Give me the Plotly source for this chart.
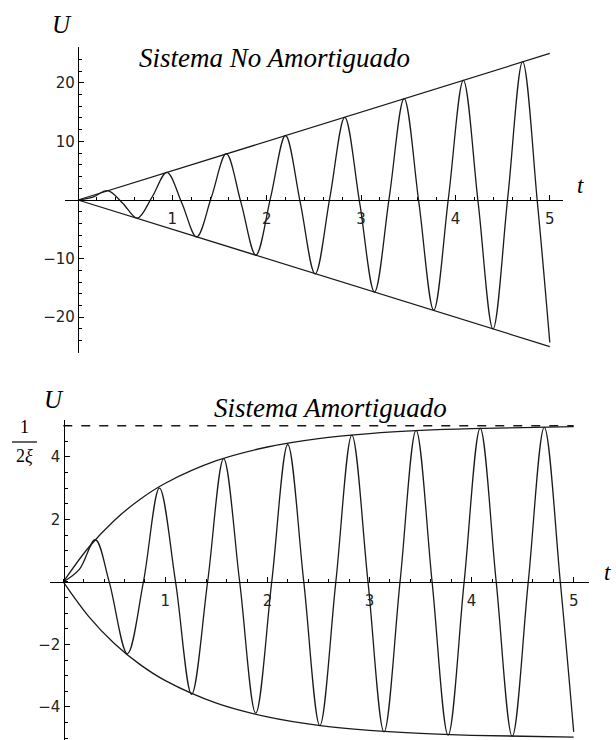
import plotly.graph_objects as go

W, H = 616, 740

# ---------------- data ----------------
# Undamped system (top)
t_und = [0, 0.157, 0.314, 0.471, 0.628, 0.785, 0.942, 1.100, 1.257, 1.414,
         1.571, 1.728, 1.885, 2.042, 2.199, 2.356, 2.513, 2.670, 2.827, 2.985,
         3.142, 3.299, 3.456, 3.613, 3.770, 3.927, 4.084, 4.241, 4.398, 4.555,
         4.712, 4.869, 5.0]
u_und = [0, 0.5, 1.6, -0.5, -3.1, 0.5, 4.7, -0.5, -6.3, 0.5,
         7.9, -0.5, -9.4, 0.5, 11.0, -0.5, -12.6, 0.5, 14.1, -0.5,
         -15.7, 0.5, 17.3, -0.5, -18.8, 0.5, 20.4, -0.5, -22.0, 0.5,
         23.6, -0.5, -24.3]
t_env_und = [0, 5.0]
u_env_und_top = [0, 25.0]
u_env_und_bot = [0, -25.0]

# Damped system (bottom)
t_dmp = [0, 0.157, 0.314, 0.45, 0.628, 0.785, 0.942, 1.100, 1.257, 1.414,
         1.571, 1.728, 1.885, 2.042, 2.199, 2.356, 2.513, 2.670, 2.827, 2.985,
         3.142, 3.299, 3.456, 3.613, 3.770, 3.927, 4.084, 4.241, 4.398, 4.555,
         4.712, 4.869, 5.0]
u_dmp = [0, 0.4, 1.35, 0, -2.3, 0, 3.0, 0, -3.6, 0,
         3.95, 0, -4.2, 0, 4.4, 0, -4.6, 0, 4.7, 0,
         -4.8, 0, 4.85, 0, -4.9, 0, 4.92, 0, -4.94, 0,
         4.95, 0, -4.8]
t_env_dmp = [0, 0.25, 0.5, 0.75, 1.0, 1.5, 2.0, 2.5, 3.0, 3.5, 4.0, 4.5, 5.0]
u_env_dmp = [0, 1.11, 1.97, 2.64, 3.16, 3.88, 4.32, 4.59, 4.75, 4.85, 4.91, 4.94, 4.97]
u_env_dmp_neg = [-v for v in u_env_dmp]
t_asym = [0, 5.0]
u_asym = [5.0, 5.0]

# Tick labels
x_ticks = [1, 2, 3, 4, 5]
x_ticktext = ["1", "2", "3", "4", "5"]
y1_ticks = [-20, -10, 10, 20]
y1_ticktext = ["\u221220", "\u221210", "10", "20"]
y2_ticks = [-4, -2, 2, 4, 5]
y2_ticktext = ["\u22124", "\u22122", "2", "4", ""]

title_top = "Sistema No Amortiguado"
title_bot = "Sistema Amortiguado"

# ---------------- figure ----------------
fig = go.Figure()
LC = "#1a1a1a"

def line(x, y, xa, ya, shape="linear", dash="solid", width=1.3):
    kw = dict(shape=shape, color=LC, width=width, dash=dash)
    if shape == "spline":
        kw["smoothing"] = 1.0
    fig.add_trace(go.Scatter(x=x, y=y, mode="lines", line=kw, xaxis=xa, yaxis=ya,
                             hoverinfo="skip", showlegend=False))

line(t_env_und, u_env_und_top, "x", "y")
line(t_env_und, u_env_und_bot, "x", "y")
line(t_und, u_und, "x", "y", shape="spline")

line(t_asym, u_asym, "x2", "y2", dash="dash")
line(t_env_dmp, u_env_dmp, "x2", "y2", shape="spline")
line(t_env_dmp, u_env_dmp_neg, "x2", "y2", shape="spline")
line(t_dmp, u_dmp, "x2", "y2", shape="spline")

def px(x):
    return x / W

def py(y):
    return 1 - y / H

tickfont = dict(family="DejaVu Sans", size=15, color="#222")

def xaxis(domain, rng, pos, minor_dtick):
    return dict(domain=domain, range=rng, anchor="free", position=pos,
                showline=True, linecolor="black", linewidth=1.4,
                ticks="inside", ticklen=5, tickwidth=1, tickcolor="black",
                tickmode="array", tickvals=x_ticks, ticktext=x_ticktext,
                ticklabelstandoff=5,
                tickfont=tickfont, showgrid=False, zeroline=False,
                minor=dict(ticks="inside", ticklen=3, tickwidth=1, tickcolor="black",
                           dtick=minor_dtick, tick0=0, showgrid=False))

def yaxis(domain, rng, pos, tv, tt, minor_dtick):
    return dict(domain=domain, range=rng, anchor="free", position=pos,
                showline=True, linecolor="black", linewidth=1.4,
                ticks="inside", ticklen=5, tickwidth=1, tickcolor="black",
                tickmode="array", tickvals=tv, ticktext=tt,
                tickfont=tickfont, showgrid=False, zeroline=False,
                minor=dict(ticks="inside", ticklen=3, tickwidth=1, tickcolor="black",
                           dtick=minor_dtick, tick0=0, showgrid=False))

fig.update_layout(
    width=W, height=H, margin=dict(l=0, r=0, t=0, b=0),
    paper_bgcolor="white", plot_bgcolor="white",
    xaxis=xaxis([px(65), px(563)], [-0.138, 5.14], py(200), 0.2),
    yaxis=yaxis([py(353), py(47)], [-26.1, 26.1], px(78), y1_ticks, y1_ticktext, 2),
    xaxis2=xaxis([px(50), px(589)], [-0.13, 5.15], py(582), 0.2),
    yaxis2=yaxis([0, py(419.5)], [-5.06, 5.2], px(63.5), y2_ticks, y2_ticktext, 0.5),
)

serif_it = dict(family="Liberation Serif", color="black")

def ann(text, x, y, size, italic=True):
    t = "<i>%s</i>" % text if italic else text
    fig.add_annotation(text=t, x=px(x), y=py(y), xref="paper", yref="paper",
                       xanchor="center", yanchor="middle", showarrow=False,
                       font=dict(size=size, **serif_it))

ann(title_top, 274, 58, 27)
ann(title_bot, 330, 408, 27)
ann("U", 62, 25, 25)
ann("U", 54, 399, 25)
ann("t", 580, 185, 23)
ann("t", 607, 572, 23)
# 1/(2 xi) tick label as a fraction
ann("1", 24, 427, 18, italic=False)
ann("2<i>\u03be</i>", 24, 456, 18, italic=False)
fig.add_shape(type="line", xref="paper", yref="paper",
              x0=px(12), x1=px(37), y0=py(442), y1=py(442),
              line=dict(color="black", width=1.2))

fig.write_html("out.html")
